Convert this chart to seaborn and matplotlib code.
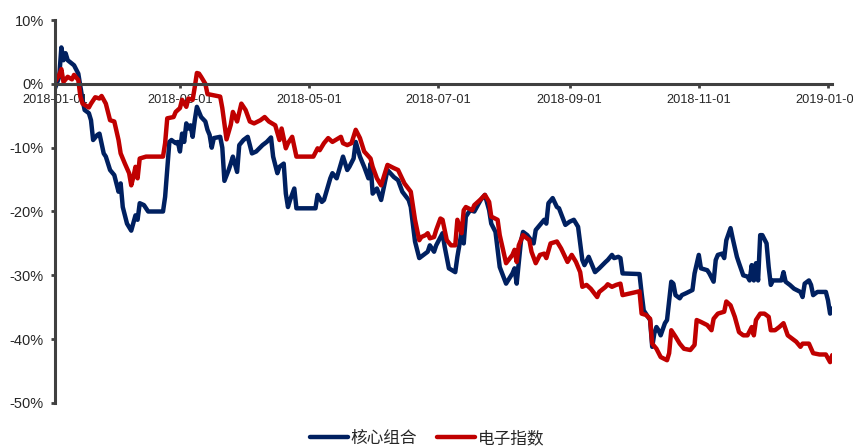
import numpy as np
import pandas as pd
import matplotlib
matplotlib.use("Agg")
import matplotlib.pyplot as plt
import matplotlib.dates as mdates
from matplotlib.ticker import FuncFormatter, FixedLocator
import seaborn as sns

# ---- data ----
# day offsets from 2018-01-01 and cumulative return (%)
core_days = [0, 2, 3, 4, 5, 6, 9, 11, 12, 13, 14, 16, 17, 18, 20, 21, 23, 24, 26, 28,
             30, 31, 32, 34, 36, 38, 39, 40, 42, 44, 51, 52, 54, 55, 57, 58, 59, 60, 61, 62,
             63, 64, 65, 66, 67, 69, 71, 72, 73, 74, 75, 78, 79, 80, 82, 83, 84, 86, 87, 89,
             91, 93, 95, 98, 100, 102, 103, 105, 106, 108, 109, 110, 111, 113, 114, 123, 124, 126, 127, 130,
             131, 133, 136, 138, 139, 141, 142, 144, 146, 148, 149, 150, 152, 154, 157, 160, 162, 164, 167, 168,
             170, 172, 174, 176, 177, 179, 180, 183, 184, 186, 189, 190, 192, 193, 194, 196, 198, 201, 203, 205,
             206, 208, 210, 213, 216, 217, 218, 220, 221, 223, 226, 227, 229, 231, 232, 233, 235, 237, 238, 241,
             243, 245, 247, 249, 250, 252, 253, 255, 257, 260, 261, 263, 264, 266, 267, 268, 276, 277, 278, 279,
             281, 282, 283, 284, 285, 286, 288, 289, 291, 292, 293, 295, 296, 298, 301, 302, 304, 305, 308, 309,
             311, 312, 313, 315, 316, 317, 319, 320, 322, 323, 325, 327, 328, 329, 330, 331, 332, 333, 334, 336,
             337, 338, 339, 343, 344, 345, 347, 349, 352, 353, 354, 356, 357, 358, 360, 364, 365, 366, 367]
core_vals = [-0.7, 1.1, 5.7, 3.7, 4.8, 3.7, 2.9, 1.6, -0.5, -2.5, -4.1, -4.6, -5.7, -8.8, -8.0, -7.8, -10.9, -11.4, -13.5, -14.3,
             -16.9, -15.6, -19.3, -21.9, -23.0, -20.6, -21.3, -18.7, -19.0, -20.0, -20.0, -17.7, -9.1, -8.8, -9.3, -9.1, -10.6, -7.8, -9.1, -6.2,
             -7.0, -6.5, -8.3, -5.7, -3.6, -5.2, -5.9, -7.2, -8.0, -10.0, -8.5, -8.3, -10.0, -15.2, -13.5, -12.5, -11.4, -13.8, -9.6, -8.8,
             -8.3, -10.9, -10.6, -9.6, -9.1, -8.4, -11.4, -14.0, -13.0, -12.5, -17.2, -19.3, -18.2, -16.4, -19.5, -19.5, -17.4, -18.5, -18.2, -14.8,
             -14.0, -14.8, -11.4, -13.5, -13.0, -11.7, -9.1, -11.4, -13.0, -14.8, -12.5, -17.2, -16.4, -18.2, -13.5, -14.6, -15.1, -16.9, -18.2, -19.3,
             -24.7, -27.3, -26.8, -26.3, -25.3, -26.3, -25.3, -23.4, -25.5, -28.9, -29.5, -27.1, -23.2, -25.0, -20.8, -19.8, -20.0, -18.2, -17.4, -19.8,
             -21.9, -23.2, -28.7, -31.3, -29.7, -28.9, -31.3, -24.7, -23.2, -23.7, -25.0, -22.9, -22.1, -21.3, -21.9, -18.7, -17.9, -19.3, -19.5, -22.1,
             -21.6, -21.3, -22.4, -27.6, -28.4, -27.1, -27.9, -29.5, -28.9, -27.9, -27.6, -26.8, -27.3, -27.1, -27.3, -29.7, -29.8, -32.8, -35.5, -36.0,
             -37.0, -41.2, -39.1, -38.1, -38.6, -39.4, -37.5, -37.0, -31.0, -31.3, -33.1, -33.6, -33.1, -32.8, -32.3, -29.7, -26.8, -28.9, -29.2, -29.7,
             -31.0, -27.6, -26.8, -26.6, -27.3, -24.5, -22.6, -24.2, -27.1, -28.1, -30.0, -30.2, -30.8, -28.4, -30.8, -28.1, -30.8, -23.7, -23.7, -25.0,
             -28.7, -31.5, -30.8, -30.8, -29.5, -31.0, -31.5, -32.1, -32.6, -33.4, -31.3, -30.8, -31.5, -33.1, -32.6, -32.6, -33.9, -36.0, -35.2]

elec_days = [0, 2, 3, 4, 6, 8, 9, 11, 12, 13, 16, 17, 19, 21, 22, 24, 26, 28, 30, 31,
             33, 35, 36, 37, 38, 39, 40, 43, 51, 52, 53, 56, 57, 59, 60, 62, 63, 65, 66, 67,
             68, 69, 71, 72, 75, 78, 79, 81, 83, 84, 86, 88, 90, 92, 94, 97, 99, 101, 104, 106,
             107, 109, 110, 112, 114, 122, 124, 125, 127, 129, 131, 135, 136, 138, 140, 142, 144, 146, 149, 150,
             152, 154, 157, 160, 162, 165, 168, 170, 172, 173, 175, 176, 177, 179, 180, 182, 183, 185, 187, 189,
             190, 192, 193, 194, 197, 198, 201, 203, 205, 206, 209, 210, 213, 216, 217, 218, 219, 221, 224, 225,
             227, 229, 231, 232, 234, 237, 239, 242, 244, 246, 248, 249, 251, 253, 256, 257, 260, 261, 263, 265,
             267, 268, 276, 277, 279, 281, 282, 284, 286, 289, 290, 291, 293, 295, 297, 300, 302, 303, 305, 308,
             310, 311, 313, 316, 317, 319, 321, 323, 325, 327, 329, 330, 331, 333, 335, 337, 338, 340, 342, 344,
             346, 348, 350, 352, 353, 356, 358, 361, 364, 366, 367]
elec_vals = [0.3, 1.4, 2.3, 0.3, 1.1, 0.7, 1.4, 0.6, -2.0, -3.1, -3.7, -3.1, -2.1, -2.3, -1.9, -3.1, -5.7, -5.9, -8.8, -10.9,
             -12.5, -14.0, -15.9, -14.6, -13.0, -14.8, -11.7, -11.4, -11.4, -9.3, -5.4, -5.2, -4.4, -3.8, -2.5, -3.6, -2.3, -2.5, -0.5, 1.7,
             1.6, 1.1, 0.0, -1.6, -1.8, -2.0, -3.8, -8.7, -6.4, -4.4, -5.9, -3.1, -4.1, -5.9, -6.2, -5.7, -5.2, -5.9, -6.5, -8.8,
             -7.0, -10.1, -9.3, -8.3, -11.4, -11.4, -10.1, -10.4, -9.3, -8.5, -9.1, -8.3, -9.3, -9.6, -9.3, -7.2, -8.5, -10.6, -11.7, -13.0,
             -14.8, -15.9, -12.7, -13.2, -13.5, -15.6, -16.9, -21.3, -24.5, -24.0, -23.7, -23.4, -24.2, -24.0, -22.9, -21.1, -21.3, -24.5, -25.3, -25.3,
             -21.3, -23.4, -19.8, -19.3, -19.8, -19.0, -18.1, -17.4, -18.5, -20.8, -21.3, -23.7, -28.1, -26.8, -26.0, -27.9, -25.3, -23.7, -24.5, -26.3,
             -28.1, -26.8, -26.6, -27.3, -25.0, -24.7, -25.8, -27.9, -26.8, -27.9, -29.5, -31.8, -31.5, -32.1, -33.4, -32.6, -31.8, -31.4, -31.8, -31.5,
             -31.3, -33.1, -32.5, -36.0, -36.2, -36.8, -40.7, -41.5, -42.8, -43.3, -42.2, -38.6, -39.6, -40.7, -41.5, -41.7, -40.9, -37.0, -37.3, -37.8,
             -38.6, -36.8, -36.0, -35.7, -34.1, -34.7, -36.5, -38.9, -39.4, -39.4, -38.1, -39.4, -37.0, -36.0, -36.0, -36.5, -38.6, -38.6, -38.1, -37.5,
             -39.4, -39.9, -40.4, -41.2, -40.7, -40.7, -42.2, -42.4, -42.4, -43.6, -42.5]

series_names = ["核心组合", "电子指数"]
start_date = "2018-01-01"
x_tick_dates = ["2018-01-01", "2018-03-01", "2018-05-01", "2018-07-01",
                "2018-09-01", "2018-11-01", "2019-01-01"]
y_ticks = [10, 0, -10, -20, -30, -40, -50]

# ---- build table ----
base = pd.Timestamp(start_date)
df = pd.concat([
    pd.DataFrame({"date": base + pd.to_timedelta(core_days, unit="D"),
                  "value": core_vals, "series": series_names[0]}),
    pd.DataFrame({"date": base + pd.to_timedelta(elec_days, unit="D"),
                  "value": elec_vals, "series": series_names[1]}),
], ignore_index=True)

sns.set_style("white")
plt.rcParams["font.family"] = ["Liberation Sans", "Noto Sans CJK SC", "DejaVu Sans"]
plt.rcParams["axes.unicode_minus"] = False

W, H = 854, 446
fig = plt.figure(figsize=(W / 100, H / 100), dpi=100)
ax = fig.add_axes([55 / W, 1 - 403 / H, (832 - 55) / W, (403 - 20) / H])

palette = {series_names[0]: "#002060", series_names[1]: "#C00000"}
sns.lineplot(data=df, x="date", y="value", hue="series", palette=palette,
             linewidth=3.2, errorbar=None, ax=ax, legend=True)

ax.set_ylim(-50, 10)
ax.set_xlim(base, base + pd.Timedelta(days=366.9))
ax.set_xlabel("")
ax.set_ylabel("")

# spines
spine_col = "#404040"
for s in ["top", "right"]:
    ax.spines[s].set_visible(False)
ax.spines["left"].set_color(spine_col)
ax.spines["left"].set_linewidth(2.2)
ax.spines["bottom"].set_color(spine_col)
ax.spines["bottom"].set_linewidth(2.2)
ax.spines["bottom"].set_position(("data", 0))

ax.yaxis.set_major_locator(FixedLocator(y_ticks))
ax.yaxis.set_major_formatter(FuncFormatter(lambda v, p: f"{v:.0f}%"))
ax.xaxis.set_major_locator(FixedLocator([mdates.date2num(pd.Timestamp(d)) for d in x_tick_dates]))
ax.xaxis.set_major_formatter(mdates.DateFormatter("%Y-%m-%d"))

ax.tick_params(axis="y", which="major", direction="out", length=3, width=2,
               color=spine_col, labelsize=10.5, pad=5, left=True)
ax.tick_params(axis="x", which="major", direction="out", length=3, width=2,
               color=spine_col, labelsize=9.2, pad=4, bottom=True)

# legend at bottom
handles, labels = ax.get_legend_handles_labels()
ax.legend_.remove()
for h in handles:
    h.set_linewidth(3.2)
fig.legend(handles, labels, loc="center", bbox_to_anchor=(0.5, 1 - 438 / H),
           ncol=2, frameon=False, fontsize=12, handlelength=2.3,
           columnspacing=1.15, handletextpad=0.15)

fig.savefig("out.png", dpi=100)
